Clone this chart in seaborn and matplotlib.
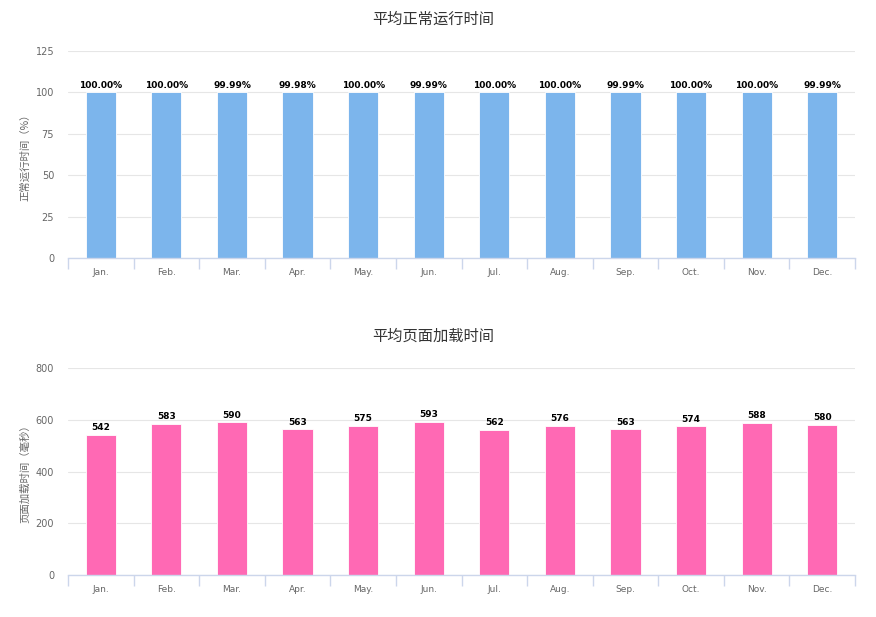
import matplotlib
matplotlib.use("Agg")
import matplotlib.pyplot as plt
import seaborn as sns
import numpy as np
import pandas as pd

months = ["Jan.", "Feb.", "Mar.", "Apr.", "May.", "Jun.", "Jul.", "Aug.", "Sep.", "Oct.", "Nov.", "Dec."]
uptime = [100.00, 100.00, 99.99, 99.98, 100.00, 99.99, 100.00, 100.00, 99.99, 100.00, 100.00, 99.99]
uptime_labels = ["100.00%", "100.00%", "99.99%", "99.98%", "100.00%", "99.99%", "100.00%", "100.00%", "99.99%", "100.00%", "100.00%", "99.99%"]
load_ms = [542, 583, 590, 563, 575, 593, 562, 576, 563, 574, 588, 580]
uptime_ticks = [0, 25, 50, 75, 100, 125]
load_ticks = [0, 200, 400, 600, 800]

sns.set_style("white")
plt.rcParams['font.family'] = ['DejaVu Sans', 'Noto Sans CJK SC']

fig = plt.figure(figsize=(8.76, 6.17), dpi=100)
ax1 = fig.add_axes([68/876, 1-258/617, 787/876, 207/617])
ax2 = fig.add_axes([68/876, 1-575/617, 787/876, 207/617])

def style(ax, values, labels, ticks, color, title, ylabel, title_y):
    df = pd.DataFrame({"m": months, "v": values})
    sns.barplot(data=df, x="m", y="v", color=color, width=0.46, ax=ax,
                saturation=1, edgecolor="white", linewidth=0.6)
    ax.set_xlim(-0.5, 11.5)
    ax.set_ylim(ticks[0], ticks[-1])
    ax.set_yticks(ticks)
    ax.yaxis.grid(True, color="#e6e6e6", linewidth=0.8)
    ax.set_axisbelow(True)
    for s in ["top", "right", "left"]:
        ax.spines[s].set_visible(False)
    ax.spines["bottom"].set_color("#ccd6eb")
    ax.spines["bottom"].set_linewidth(1)
    ax.tick_params(axis="y", length=0, labelsize=7, labelcolor="#666666", pad=10)
    ax.tick_params(axis="x", which="major", bottom=True, length=0, labelsize=6.5,
                   labelcolor="#666666", pad=7)
    ax.set_xticks(np.arange(-0.5, 12, 1), minor=True)
    ax.tick_params(axis="x", which="minor", bottom=True, length=8, color="#ccd6eb",
                   width=1, direction="out")
    ax.set_xlabel("")
    ax.set_ylabel(ylabel, fontsize=7.5, color="#666666", labelpad=4,
                  family=["Noto Sans CJK SC", "DejaVu Sans"])
    ax.bar_label(ax.containers[0], labels=labels, padding=2, fontsize=6.5,
                 fontweight="bold", color="black")
    fig.text(433 / 876, title_y, title, ha="center", va="center",
             fontsize=11, color="#333333", family=["Noto Sans CJK SC", "DejaVu Sans"])

style(ax1, uptime, uptime_labels, uptime_ticks, "#7cb5ec", "平均正常运行时间", "正常运行时间（%）", 1 - 19/617)
style(ax2, load_ms, [str(v) for v in load_ms], load_ticks, "#ff69b4", "平均页面加载时间", "页面加载时间（毫秒）", 1 - 336/617)

fig.savefig("out.png", dpi=100, facecolor="white")
